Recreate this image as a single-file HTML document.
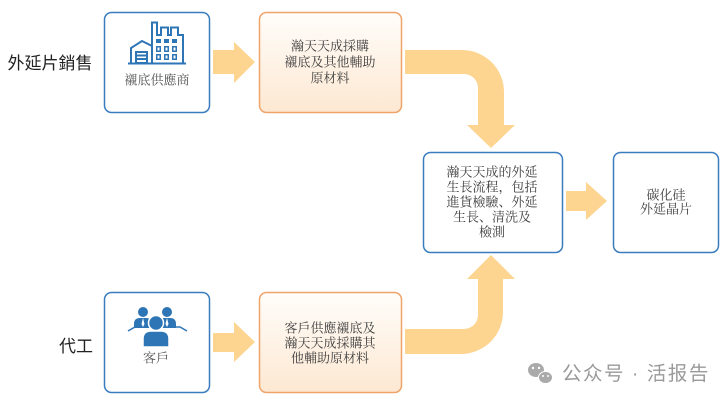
<!DOCTYPE html>
<html><head><meta charset="utf-8"><style>
html,body{margin:0;padding:0;background:#fff;}
svg{display:block;}
.s{font-family:"Liberation Serif","Noto Serif CJK SC","Noto Serif CJK TC",serif;font-size:13px;fill:#404040;text-anchor:middle;}
.l{font-family:"Liberation Sans","Noto Sans CJK SC",sans-serif;font-size:17px;fill:#222;text-anchor:middle;}
</style></head><body>
<svg width="728" height="403" viewBox="0 0 728 403" xmlns="http://www.w3.org/2000/svg">
<defs>
<linearGradient id="og" x1="0" y1="0" x2="0" y2="1">
<stop offset="0" stop-color="#FFFDFA"/><stop offset="1" stop-color="#FDE8D2"/>
</linearGradient>
</defs>
<!-- arrows -->
<g fill="#FDD591">
<path d="M213,50 H234 V42 L255,62 L234,83 V74 H213 Z"/>
<path d="M213,333 H234 V322 L255,342 L234,362 V352 H213 Z"/>
<path d="M566,191 H586 V182 L607,201 L586,220 V211 H566 Z"/>
<path d="M405,50 H462 A42,42 0 0 1 504,92 V125 H515 L491,148 L467,125 H478 V88 A14,14 0 0 0 464,74 H405 Z"/>
<path d="M405,354 H461 A42,42 0 0 0 503,312 V279 H515 L491,255 L467,279 H478 V315 A14,14 0 0 1 464,329 H405 Z"/>
</g>
<!-- boxes -->
<g stroke-width="1.5">
<rect x="104.5" y="12.5" width="105" height="100" rx="7" fill="#fff" stroke="#3A7DBF"/>
<rect x="259.5" y="12.5" width="142" height="100" rx="7" fill="url(#og)" stroke="#EFA46A"/>
<rect x="423.5" y="152.5" width="139" height="100" rx="7" fill="#fff" stroke="#3A7DBF"/>
<rect x="613.5" y="152.5" width="105" height="100" rx="7" fill="#fff" stroke="#3A7DBF"/>
<rect x="104.5" y="292.5" width="105" height="100" rx="7" fill="#fff" stroke="#3A7DBF"/>
<rect x="259.5" y="292.5" width="142" height="100" rx="7" fill="url(#og)" stroke="#EFA46A"/>
</g>
<!-- factory icon -->
<g fill="none" stroke="#2E75B6" stroke-width="2">
<path d="M128,63.5 H186"/>
<path d="M131,63 V48 L142,41 L152,46"/>
<rect x="136" y="52" width="11" height="11"/>
<path d="M136,55.5 H147 M136,59 H147"/>
<path d="M152,63 V22.5 H157 V35 H161 V27.5 H168 V35 H171 V27.5 H178 V35 H183 V63"/>
<path d="M157,35 H161"/>
</g>
<g fill="#2E75B6">
<rect x="156" y="39" width="5" height="4"/><rect x="164" y="39" width="5" height="4"/><rect x="172" y="39" width="5" height="4"/>
<rect x="156" y="46" width="5" height="6"/><rect x="164" y="46" width="5" height="6"/><rect x="172" y="46" width="5" height="6"/>
<rect x="156" y="54" width="5" height="6"/><rect x="164" y="54" width="5" height="6"/><rect x="172" y="54" width="5" height="6"/>
</g>
<g fill="#fff">
<rect x="157.5" y="47.5" width="2" height="3"/><rect x="165.5" y="47.5" width="2" height="3"/><rect x="173.5" y="47.5" width="2" height="3"/>
<rect x="157.5" y="55.5" width="2" height="3"/><rect x="165.5" y="55.5" width="2" height="3"/><rect x="173.5" y="55.5" width="2" height="3"/>
<rect x="163" y="30" width="3" height="3"/><rect x="173" y="30" width="3" height="3"/>
</g>
<!-- people icon -->
<g>
<path d="M128,331 L135,327 H180 L187,331" fill="none" stroke="#2E75B6" stroke-width="1.5"/>
<circle cx="143" cy="312" r="5" fill="#2E75B6"/>
<path d="M134,328 V324 Q134,318 140,318 H146 Q152,318 152,324 V328 Z" fill="#2E75B6"/>
<path d="M143,318 L141.5,324 L143,327 L144.5,324 Z" fill="#fff"/>
<circle cx="167" cy="312" r="5" fill="#2E75B6"/>
<path d="M158,328 V324 Q158,318 164,318 H170 Q176,318 176,324 V328 Z" fill="#2E75B6"/>
<path d="M167,318 L165.5,324 L167,327 L168.5,324 Z" fill="#fff"/>
<circle cx="156" cy="323" r="7.5" fill="#2E75B6" stroke="#fff" stroke-width="1.5"/>
<path d="M143,347 V339 Q143,331 151,331 H161 Q169,331 169,339 V347 Z" fill="#2E75B6" stroke="#fff" stroke-width="1.5"/>
</g>
<!-- labels -->
<text class="l" x="50" y="69">外延片銷售</text>
<text class="l" x="76" y="352">代工</text>
<text class="s" x="157" y="84.5" style="fill:#555">襯底供應商</text>
<text class="s" x="156" y="362.5" style="fill:#555">客戶</text>
<text class="s" x="330" y="50.5">瀚天天成採購</text>
<text class="s" x="330" y="66.5">襯底及其他輔助</text>
<text class="s" x="330" y="82.5">原材料</text>
<text class="s" x="492" y="176.5">瀚天天成的外延</text>
<text class="s" x="492" y="191.5">生長流程，包括</text>
<text class="s" x="492" y="206.5">進貨檢驗、外延</text>
<text class="s" x="492" y="221.5">生長、清洗及</text>
<text class="s" x="492" y="236.5">檢測</text>
<text class="s" x="666" y="199.5">碳化硅</text>
<text class="s" x="666" y="213.5">外延晶片</text>
<text class="s" x="330" y="332.5">客戶供應襯底及</text>
<text class="s" x="330" y="347.5">瀚天天成採購其</text>
<text class="s" x="330" y="362.5">他輔助原材料</text>
<!-- watermark -->
<g fill="#aaa">
<ellipse cx="536" cy="370" rx="8" ry="7"/>
<ellipse cx="545.5" cy="377.5" rx="7" ry="6" stroke="#fff" stroke-width="1"/>
</g>
<g fill="#fff">
<circle cx="533" cy="368" r="1.2"/><circle cx="539" cy="368" r="1.2"/>
<circle cx="543" cy="376" r="1"/><circle cx="548" cy="376" r="1"/>
</g>
<text x="562" y="380" style="font-family:'Liberation Sans','Noto Sans CJK SC',sans-serif;font-size:19.5px;letter-spacing:1.5px;fill:#9a9a9a;">公众号 · 活报告</text>
</svg>
</body></html>
